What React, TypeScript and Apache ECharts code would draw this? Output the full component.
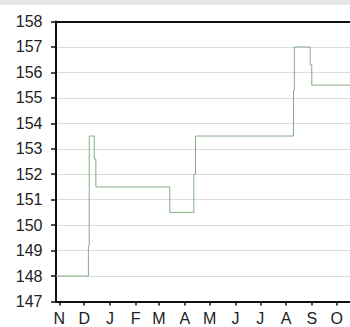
import React, { useEffect, useRef } from "react";
import * as echarts from "echarts";

// Dates where the price changes, and the new price from that date on
const changeDates = [
  "2006-10-28", "2006-12-06", "2006-12-07", "2006-12-13", "2006-12-15",
  "2007-03-14", "2007-04-12", "2007-04-14", "2007-08-10", "2007-08-11",
  "2007-08-30", "2007-09-01", "2007-10-17",
];
const prices = [148, 149.2, 153.5, 152.6, 151.5, 150.5, 152.0, 153.5, 155.3, 157, 156.3, 155.5, 155.5];

const monthTicks = [
  "2006-11-01", "2006-12-01", "2007-01-01", "2007-02-01", "2007-03-01", "2007-04-01",
  "2007-05-01", "2007-06-01", "2007-07-01", "2007-08-01", "2007-09-01", "2007-10-01",
];
const monthLetters = ["J", "F", "M", "A", "M", "J", "J", "A", "S", "O", "N", "D"];

const xStart = "2006-10-28";
const xEnd = "2007-10-17";
const yMin = 147;
const yMax = 158;

function toTime(s: string): number {
  const [y, m, d] = s.split("-").map(Number);
  return new Date(y, m - 1, d).getTime();
}

export default function App() {
  const ref = useRef<HTMLDivElement>(null);
  useEffect(() => {
    if (!ref.current) return;
    const chart = echarts.init(ref.current, null, { renderer: "svg" });
    const tickTimes = monthTicks.map(toTime);
    const font = "'Liberation Sans', Arial, Helvetica, sans-serif";
    chart.setOption({
      animation: false,
      backgroundColor: "#ffffff",
      graphic: [
        {
          type: "rect",
          left: 0,
          top: 0,
          shape: { width: 350, height: 5 },
          style: { fill: "#e6e6e6" },
          silent: true,
        },
      ],
      grid: { left: 56, right: 0, top: 21.5, bottom: 25.5, containLabel: false },
      xAxis: [
        {
          type: "value",
          min: toTime(xStart),
          max: toTime(xEnd),
          axisLine: { show: true, onZero: false, lineStyle: { color: "#111111", width: 2 } },
          axisTick: {
            show: true,
            length: 4,
            customValues: tickTimes,
            lineStyle: { color: "#111111", width: 1.5 },
          },
          axisLabel: {
            show: true,
            customValues: tickTimes,
            margin: 9,
            fontSize: 16,
            fontFamily: font,
            color: "#222222",
            formatter: (v: number) => monthLetters[new Date(v).getMonth()],
          },
          splitLine: { show: false },
        },
        {
          type: "value",
          position: "top",
          min: 0,
          max: 1,
          axisLine: { show: true, onZero: false, lineStyle: { color: "#111111", width: 2 } },
          axisTick: { show: false },
          axisLabel: { show: false },
          splitLine: { show: false },
        },
      ],
      yAxis: {
        type: "value",
        min: yMin,
        max: yMax,
        interval: 1,
        axisLine: { show: true, lineStyle: { color: "#111111", width: 2 } },
        axisTick: { show: true, length: 5, lineStyle: { color: "#111111", width: 1.5 } },
        axisLabel: {
          margin: 13.5,
          fontSize: 16,
          fontFamily: font,
          color: "#222222",
        },
        splitLine: { show: true, lineStyle: { color: "#dcdcdc", width: 1 } },
      },
      series: [
        {
          type: "line",
          xAxisIndex: 0,
          step: "end",
          symbol: "none",
          lineStyle: { color: "#84ac84", width: 1 },
          data: changeDates.map((d, i) => [toTime(d), prices[i]]),
        },
      ],
    });
    return () => chart.dispose();
  }, []);
  return (
    <div
      ref={ref}
      style={{ position: "fixed", left: 0, top: 0, width: 350, height: 327 }}
    />
  );
}
